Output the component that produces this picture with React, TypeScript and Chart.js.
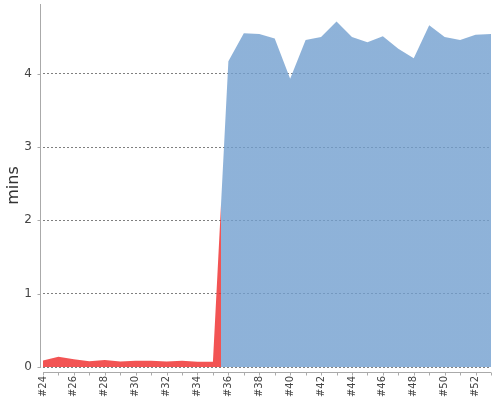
import React, { useEffect, useRef } from 'react';
import { Chart, registerables } from 'chart.js';

Chart.register(...registerables);

// Build numbers (x categories)
const builds = [
  '#24', '#25', '#26', '#27', '#28', '#29', '#30', '#31', '#32', '#33',
  '#34', '#35', '#36', '#37', '#38', '#39', '#40', '#41', '#42', '#43',
  '#44', '#45', '#46', '#47', '#48', '#49', '#50', '#51', '#52', '#53',
];

// Build duration in minutes
const minutes = [
  0.09, 0.14, 0.105, 0.08, 0.095, 0.075, 0.085, 0.085, 0.075, 0.085,
  0.07, 0.07, 4.17, 4.55, 4.54, 4.48, 3.93, 4.46, 4.5, 4.71,
  4.5, 4.43, 4.51, 4.34, 4.21, 4.66, 4.5, 4.46, 4.53, 4.54,
];

// Build result
const status = [
  'failed', 'failed', 'failed', 'failed', 'failed', 'failed', 'failed', 'failed', 'failed', 'failed',
  'failed', 'failed', 'success', 'success', 'success', 'success', 'success', 'success', 'success', 'success',
  'success', 'success', 'success', 'success', 'success', 'success', 'success', 'success', 'success', 'success',
];

const yTitle = 'mins';
const yMax = 4.95;

const RED = 'rgba(239, 41, 41, 0.8)';
const BLUE = 'rgba(114, 159, 207, 0.8)';
const AXIS = '#aaaaaa';
const FONT = 'DejaVu Sans';

const colorFor = (s: string) => (s === 'failed' ? RED : BLUE);

function areaFill(ctx: any) {
  const chart = ctx.chart;
  const area = chart.chartArea;
  const xs = chart.scales && chart.scales.x;
  if (!area || !xs) return colorFor(status[0]);
  const w = area.right - area.left;
  const g = chart.ctx.createLinearGradient(area.left, 0, area.right, 0);
  let prev = status[0];
  g.addColorStop(0, colorFor(prev));
  for (let i = 1; i < status.length; i++) {
    if (status[i] !== prev) {
      const mid = (xs.getPixelForValue(i - 1) + xs.getPixelForValue(i)) / 2;
      const f = Math.min(1, Math.max(0, (mid - area.left) / w));
      g.addColorStop(f, colorFor(prev));
      g.addColorStop(f, colorFor(status[i]));
      prev = status[i];
    }
  }
  g.addColorStop(1, colorFor(prev));
  return g;
}

const axesPlugin = {
  id: 'offsetAxes',
  afterDraw(chart: any) {
    const { ctx, chartArea } = chart;
    const { left, right, top, bottom } = chartArea;
    const xs = chart.scales.x;
    const ys = chart.scales.y;
    ctx.save();
    ctx.strokeStyle = AXIS;
    ctx.lineWidth = 1;
    ctx.beginPath();
    // y axis line
    const ax = Math.round(left) - 3 + 0.5;
    ctx.moveTo(ax, top);
    ctx.lineTo(ax, bottom + 1);
    ys.ticks.forEach((t: any) => {
      const py = Math.round(ys.getPixelForValue(t.value)) + 0.5;
      ctx.moveTo(ax - 3, py);
      ctx.lineTo(ax, py);
    });
    // x axis line
    const ay = Math.round(bottom) + 5 + 0.5;
    ctx.moveTo(left, ay);
    ctx.lineTo(right, ay);
    for (let i = 0; i < builds.length; i++) {
      const px = Math.round(xs.getPixelForValue(i)) + 0.5;
      ctx.moveTo(px, ay);
      ctx.lineTo(px, ay + 3);
    }
    ctx.stroke();
    ctx.restore();
  },
};

export default function App() {
  const ref = useRef<HTMLCanvasElement>(null);

  useEffect(() => {
    document.body.style.margin = '0';
    const canvas = ref.current;
    if (!canvas) return;
    Chart.defaults.font.family = FONT;
    const chart = new Chart(canvas, {
      type: 'line',
      data: {
        labels: builds,
        datasets: [
          {
            label: 'duration',
            data: minutes,
            fill: 'origin',
            backgroundColor: areaFill,
            borderWidth: 0,
            borderColor: 'rgba(0,0,0,0)',
            pointRadius: 0,
            pointHoverRadius: 0,
            tension: 0,
          },
        ],
      },
      options: {
        responsive: false,
        animation: false,
        devicePixelRatio: 1,
        layout: { padding: { top: 4, right: 9, left: 0, bottom: 0 } },
        plugins: {
          legend: { display: false },
          tooltip: { enabled: false },
        },
        scales: {
          x: {
            type: 'category',
            grid: { display: false, drawTicks: false },
            border: { display: false },
            ticks: {
              autoSkip: false,
              minRotation: 90,
              maxRotation: 90,
              padding: 9,
              color: '#444444',
              font: { size: 10, family: FONT },
              callback: (_v: any, i: number) => (i % 2 === 0 ? builds[i] : ''),
            },
            afterFit: (s: any) => {
              s.height = 33;
              s.paddingLeft = 0;
              s.paddingRight = 0;
            },
          },
          y: {
            type: 'linear',
            min: 0,
            max: yMax,
            grid: {
              display: true,
              drawTicks: false,
              color: 'rgba(0,0,0,0.5)',
              lineWidth: 1,
            },
            border: { display: false, dash: [2, 2] },
            ticks: {
              stepSize: 1,
              includeBounds: false,
              padding: 11,
              color: '#444444',
              font: { size: 12, family: FONT },
            },
            title: {
              display: true,
              text: yTitle,
              color: '#333333',
              padding: { top: 4, bottom: 0 },
              font: { size: 16, family: FONT },
            },
            afterFit: (s: any) => {
              s.width = 43;
              s.paddingTop = 0;
              s.paddingBottom = 0;
            },
          },
        },
      },
      plugins: [axesPlugin],
    });
    return () => chart.destroy();
  }, []);

  return (
    <div style={{ width: 500, height: 400 }}>
      <canvas ref={ref} width={500} height={400} />
    </div>
  );
}
